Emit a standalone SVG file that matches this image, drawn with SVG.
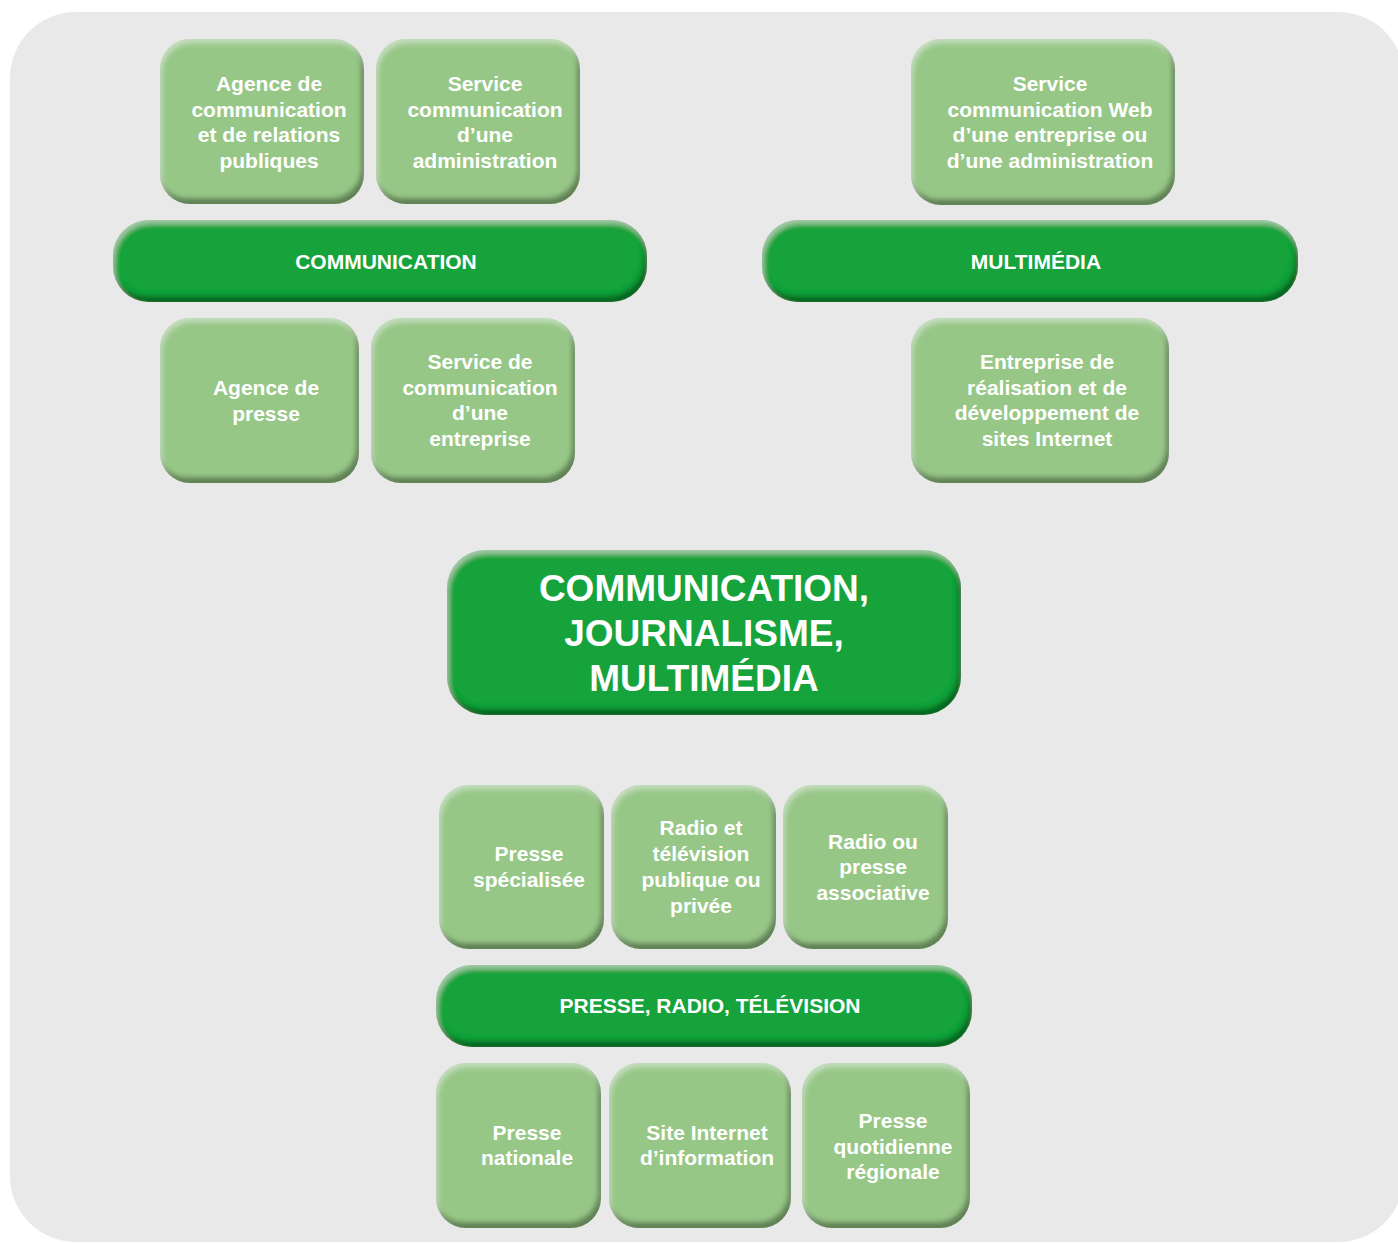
<svg xmlns="http://www.w3.org/2000/svg" width="1398" height="1243" viewBox="0 0 1398 1243">
<defs>
<style>
.lt{fill:#97c787;filter:url(#bevel)}
.dk{fill:#16a33a;filter:url(#bevel)}
text{font-family:"Liberation Sans",Arial,Helvetica,sans-serif;font-weight:bold;fill:#fff;text-anchor:middle}
.s{font-size:21px}
.b{font-size:21px}
.c{font-size:37px}
</style>
<filter id="bevel" x="-5%" y="-5%" width="110%" height="110%">
<feGaussianBlur in="SourceAlpha" stdDeviation="2.5" result="blur"/>
<feOffset in="blur" dx="-3" dy="-6" result="off1"/>
<feComposite in="SourceAlpha" in2="off1" operator="out" result="sh"/>
<feFlood flood-color="#000" flood-opacity="0.62"/>
<feComposite in2="sh" operator="in" result="shadow"/>
<feOffset in="blur" dx="2" dy="4" result="off2"/>
<feComposite in="SourceAlpha" in2="off2" operator="out" result="hl"/>
<feFlood flood-color="#fff" flood-opacity="0.35"/>
<feComposite in2="hl" operator="in" result="highlight"/>
<feMerge><feMergeNode in="SourceGraphic"/><feMergeNode in="shadow"/><feMergeNode in="highlight"/></feMerge>
</filter>
</defs>
<rect x="10" y="12" width="1394" height="1230" rx="66" fill="#e9e9e9"/>
<g id="connectors"></g>
<g id="n-agence-com"><rect class="lt" x="160" y="39" width="204" height="165" rx="30"/>
<text class="s" x="269" y="91">Agence de</text><text class="s" x="269" y="117">communication</text><text class="s" x="269" y="142">et de relations</text><text class="s" x="269" y="168">publiques</text></g>
<g id="n-service-admin"><rect class="lt" x="376" y="39" width="204" height="165" rx="30"/>
<text class="s" x="485" y="91">Service</text><text class="s" x="485" y="117">communication</text><text class="s" x="485" y="142">d’une</text><text class="s" x="485" y="168">administration</text></g>
<g id="n-communication"><rect class="dk" x="113" y="220" width="534" height="82" rx="36"/>
<text class="b" x="386" y="269">COMMUNICATION</text></g>
<g id="n-agence-presse"><rect class="lt" x="160" y="318" width="199" height="165" rx="30"/>
<text class="s" x="266" y="395">Agence de</text><text class="s" x="266" y="421">presse</text></g>
<g id="n-service-entreprise"><rect class="lt" x="371" y="318" width="204" height="165" rx="30"/>
<text class="s" x="480" y="369">Service de</text><text class="s" x="480" y="395">communication</text><text class="s" x="480" y="420">d’une</text><text class="s" x="480" y="446">entreprise</text></g>
<g id="n-service-web"><rect class="lt" x="911" y="39" width="264" height="166" rx="30"/>
<text class="s" x="1050" y="91">Service</text><text class="s" x="1050" y="117">communication Web</text><text class="s" x="1050" y="142">d’une entreprise ou</text><text class="s" x="1050" y="168">d’une administration</text></g>
<g id="n-multimedia"><rect class="dk" x="762" y="220" width="536" height="82" rx="36"/>
<text class="b" x="1036" y="269">MULTIMÉDIA</text></g>
<g id="n-entreprise-web"><rect class="lt" x="911" y="318" width="258" height="165" rx="30"/>
<text class="s" x="1047" y="369">Entreprise de</text><text class="s" x="1047" y="395">réalisation et de</text><text class="s" x="1047" y="420">développement de</text><text class="s" x="1047" y="446">sites Internet</text></g>
<g id="n-center"><rect class="dk" x="447" y="550" width="514" height="165" rx="38"/>
<text class="c" x="704" y="601">COMMUNICATION,</text><text class="c" x="704" y="646">JOURNALISME,</text><text class="c" x="704" y="691">MULTIMÉDIA</text></g>
<g id="n-presse-spec"><rect class="lt" x="439" y="785" width="165" height="164" rx="30"/>
<text class="s" x="529" y="861">Presse</text><text class="s" x="529" y="887">spécialisée</text></g>
<g id="n-radio-tv"><rect class="lt" x="611" y="785" width="165" height="164" rx="30"/>
<text class="s" x="701" y="835">Radio et</text><text class="s" x="701" y="861">télévision</text><text class="s" x="701" y="887">publique ou</text><text class="s" x="701" y="913">privée</text></g>
<g id="n-radio-asso"><rect class="lt" x="783" y="785" width="165" height="164" rx="30"/>
<text class="s" x="873" y="849">Radio ou</text><text class="s" x="873" y="874">presse</text><text class="s" x="873" y="900">associative</text></g>
<g id="n-presse-radio-tv"><rect class="dk" x="436" y="965" width="536" height="82" rx="36"/>
<text class="b" x="710" y="1013">PRESSE, RADIO, TÉLÉVISION</text></g>
<g id="n-presse-nat"><rect class="lt" x="436" y="1063" width="165" height="165" rx="30"/>
<text class="s" x="527" y="1140">Presse</text><text class="s" x="527" y="1165">nationale</text></g>
<g id="n-site-info"><rect class="lt" x="609" y="1063" width="182" height="165" rx="30"/>
<text class="s" x="707" y="1140">Site Internet</text><text class="s" x="707" y="1165">d’information</text></g>
<g id="n-pqr"><rect class="lt" x="802" y="1063" width="168" height="165" rx="30"/>
<text class="s" x="893" y="1128">Presse</text><text class="s" x="893" y="1154">quotidienne</text><text class="s" x="893" y="1179">régionale</text></g>
</svg>
